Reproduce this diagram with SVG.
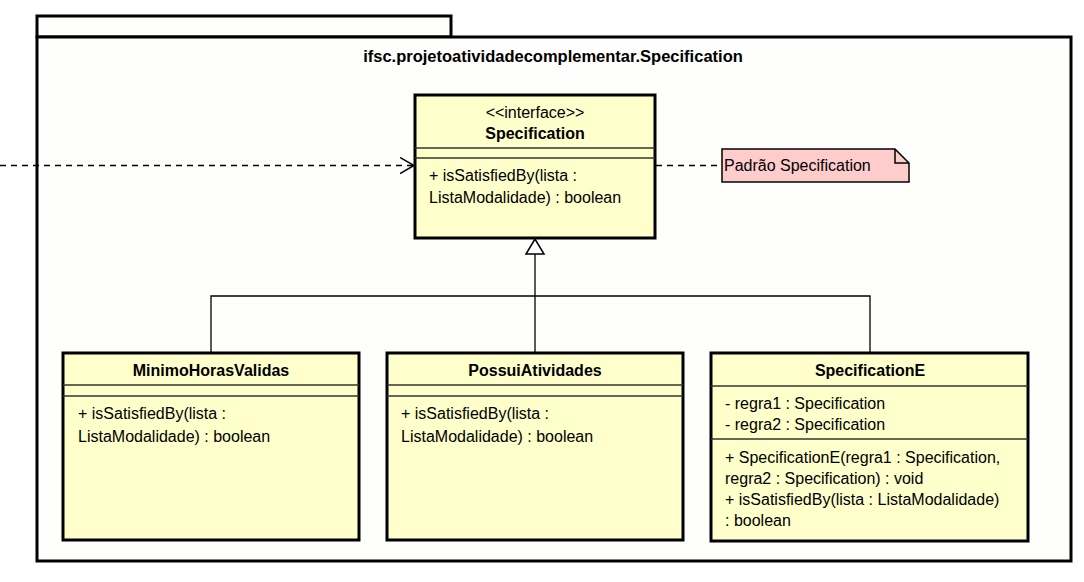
<svg xmlns="http://www.w3.org/2000/svg" width="1084" height="582" viewBox="0 0 1084 582">
<style>
  .pkg { fill: #FEFEFC; stroke: #000; stroke-width: 3; }
  .cls { fill: #FFFFCC; stroke: #000; stroke-width: 3; }
  .sep { stroke: #333; stroke-width: 1.3; fill: none; }
  .note { fill: #FFCCCC; stroke: #000; stroke-width: 1.5; }
  .t { font-family: "Liberation Sans", Arial, sans-serif; font-size: 16px; fill: #000; }
  .b { font-family: "Liberation Sans", Arial, sans-serif; font-size: 16px; font-weight: bold; fill: #000; }
  .c { text-anchor: middle; }
  .line { stroke: #000; stroke-width: 1.3; fill: none; }
  .dash { stroke: #000; stroke-width: 1.3; fill: none; stroke-dasharray: 6 5; }
</style>
<defs>
  <marker id="open" markerWidth="16" markerHeight="20" refX="14" refY="9" orient="auto" markerUnits="userSpaceOnUse">
    <path d="M0,1 L14,9 L0,17" fill="none" stroke="#000" stroke-width="1.5"/>
  </marker>
</defs>
<rect width="1084" height="582" fill="#FFFFFF"/>
<g id="package">
  <rect class="pkg" x="37" y="16" width="414" height="21"/>
  <rect class="pkg" x="37" y="37" width="1034" height="524"/>
  <text class="b c" x="553" y="62" style="font-size:16.5px">ifsc.projetoatividadecomplementar.Specification</text>
</g>
<g id="connectors">
  <line class="dash" x1="0" y1="165.5" x2="414" y2="165.5" marker-end="url(#open)"/>
  <line class="dash" x1="656" y1="165.5" x2="722" y2="165.5"/>
  <polyline class="line" points="211,353 211,296 870,296 870,353"/>
  <line class="line" x1="535" y1="254" x2="535" y2="353"/>
  <polygon points="535,239 526,254 544,254" fill="#FFFFFF" stroke="#000" stroke-width="1.5"/>
</g>
<g id="Specification">
  <rect class="cls" x="415" y="95" width="240" height="143"/>
  <line class="sep" x1="415" y1="148" x2="655" y2="148"/>
  <line class="sep" x1="415" y1="158" x2="655" y2="158"/>
  <text class="t c" x="535" y="118">&lt;&lt;interface&gt;&gt;</text>
  <text class="b c" x="535" y="139">Specification</text>
  <text class="t" x="429" y="181">+ isSatisfiedBy(lista :</text>
  <text class="t" x="429" y="203">ListaModalidade) : boolean</text>
</g>
<g id="note">
  <path class="note" d="M722,149 L895,149 L909,163 L909,182 L722,182 Z"/>
  <path d="M895,149 L895,163 L909,163" fill="none" stroke="#000" stroke-width="1.5"/>
  <text class="t" x="724" y="171">Padrão Specification</text>
</g>
<g id="MinimoHorasValidas">
  <rect class="cls" x="63" y="353" width="296" height="187"/>
  <line class="sep" x1="63" y1="385" x2="359" y2="385"/>
  <line class="sep" x1="63" y1="396" x2="359" y2="396"/>
  <text class="b c" x="211" y="376">MinimoHorasValidas</text>
  <text class="t" x="78" y="419">+ isSatisfiedBy(lista :</text>
  <text class="t" x="78" y="442">ListaModalidade) : boolean</text>
</g>
<g id="PossuiAtividades">
  <rect class="cls" x="387" y="353" width="296" height="187"/>
  <line class="sep" x1="387" y1="385" x2="683" y2="385"/>
  <line class="sep" x1="387" y1="396" x2="683" y2="396"/>
  <text class="b c" x="535" y="376">PossuiAtividades</text>
  <text class="t" x="401" y="419">+ isSatisfiedBy(lista :</text>
  <text class="t" x="401" y="442">ListaModalidade) : boolean</text>
</g>
<g id="SpecificationE">
  <rect class="cls" x="711" y="353" width="317" height="188"/>
  <line class="sep" x1="711" y1="386" x2="1028" y2="386"/>
  <line class="sep" x1="711" y1="439" x2="1028" y2="439"/>
  <text class="b c" x="870" y="376">SpecificationE</text>
  <text class="t" x="725" y="409">- regra1 : Specification</text>
  <text class="t" x="725" y="430">- regra2 : Specification</text>
  <text class="t" x="725" y="463">+ SpecificationE(regra1 : Specification,</text>
  <text class="t" x="725" y="484">regra2 : Specification) : void</text>
  <text class="t" x="725" y="505">+ isSatisfiedBy(lista : ListaModalidade)</text>
  <text class="t" x="725" y="526">: boolean</text>
</g>
</svg>
